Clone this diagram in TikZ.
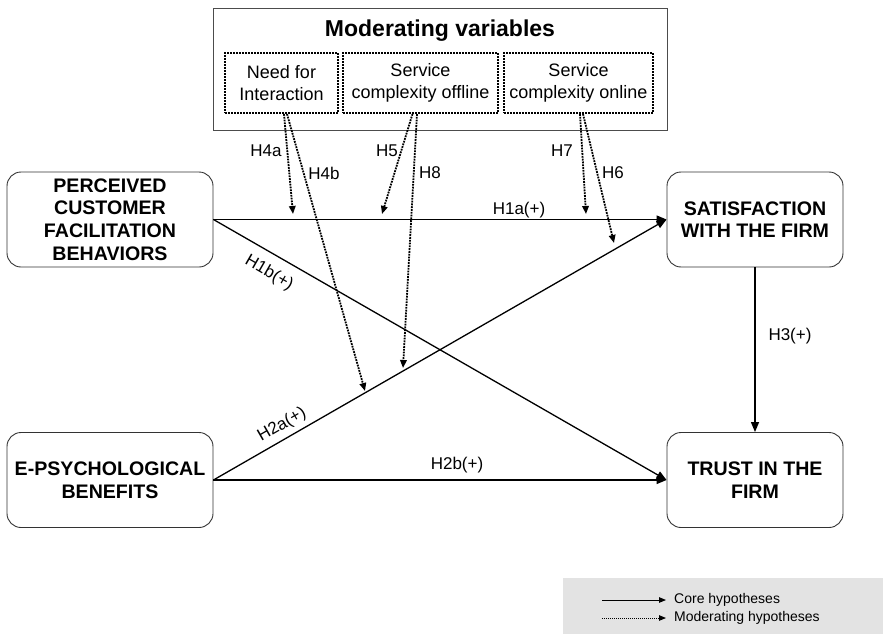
\documentclass[tikz,border=0pt]{standalone}
\usepackage{fontspec}
\setmainfont{Liberation Sans}
\usetikzlibrary{arrows.meta}
\begin{document}
\begin{tikzpicture}[x=1pt,y=-1pt,
  mainbox/.style={draw=black!80, line width=0.9pt, rounded corners=14pt, align=center,
    font=\fontsize{19.6}{22.6}\selectfont\bfseries, inner sep=0pt},
  modbox/.style={draw, densely dotted, line width=2pt, align=center,
    font=\fontsize{18}{21.5}\selectfont, inner sep=0pt},
  core/.style={line width=1.3pt, -{Triangle[length=10pt,width=8pt]}},
  moder/.style={line width=1.8pt, densely dotted, -{Triangle[length=8pt,width=6.5pt]}},
  hlab/.style={font=\fontsize{17}{20}\selectfont, inner sep=0pt},
  legtext/.style={font=\fontsize{14}{16}\selectfont, inner sep=0pt, anchor=west}
]
\useasboundingbox (0,0) rectangle (883,634);

% legend background
\fill[black!11] (563,578) rectangle (883,634);

% moderating variables box
\node[draw=black!70, line width=1pt, minimum width=454pt, minimum height=121pt, inner sep=0pt] (mod) at (440,69.5) {};
\node[font=\fontsize{23}{27}\selectfont\bfseries, inner sep=0pt] (title) at (440,31) {Moderating variables};
\node[modbox, minimum width=113pt, minimum height=60pt] (need) at (281.5,83) {Need for\\Interaction};
\node[modbox, minimum width=155pt, minimum height=60pt] (off) at (420.5,83) {Service\\complexity offline};
\node[modbox, minimum width=149pt, minimum height=60pt] (on) at (578.5,83) {Service\\complexity online};

% main constructs
\node[mainbox, minimum width=206pt, minimum height=95pt] (pcfb) at (110,219.5) {PERCEIVED\\CUSTOMER\\FACILITATION\\BEHAVIORS};
\node[mainbox, minimum width=176pt, minimum height=95pt] (sat) at (755,219.5) {SATISFACTION\\WITH THE FIRM};
\node[mainbox, minimum width=206pt, minimum height=95pt] (eps) at (110,480) {E-PSYCHOLOGICAL\\BENEFITS};
\node[mainbox, minimum width=176pt, minimum height=95pt] (trust) at (755,480) {TRUST IN THE\\FIRM};

% core hypotheses
\draw[core] (pcfb.east) -- (sat.west);
\draw[core] (pcfb.east) -- (trust.west);
\draw[core] (eps.east) -- (sat.west);
\draw[core] (eps.east) -- (trust.west);
\draw[core] (sat.south) -- (trust.north);

\node[hlab] (l1a) at (519,210) {H1a(+)};
\node[hlab, rotate=-29.9] (l1b) at (269,273) {H1b(+)};
\node[hlab, rotate=29.85] (l2a) at (282,425) {H2a(+)};
\node[hlab] (l2b) at (457,465) {H2b(+)};
\node[hlab] (l3) at (790,336) {H3(+)};

% moderating hypotheses
\coordinate (t4a) at (293,214);
\coordinate (t4b) at (365,391);
\coordinate (t5) at (382,214);
\coordinate (t8) at (403,368);
\coordinate (t7) at (586,214);
\coordinate (t6) at (614,243);

\draw[moder] ([xshift=2.5pt]need.south) -- (t4a);
\draw[moder] ([xshift=5.5pt]need.south) -- (t4b);
\draw[moder] ([xshift=-8pt]off.south) -- (t5);
\draw[moder] ([xshift=-3.5pt]off.south) -- (t8);
\draw[moder] ([xshift=1.5pt]on.south) -- (t7);
\draw[moder] ([xshift=4.5pt]on.south) -- (t6);

\node[hlab] (l4a) at (266,151) {H4a};
\node[hlab] (l4b) at (324,173) {H4b};
\node[hlab] (l5) at (387,151) {H5};
\node[hlab] (l8) at (430,173) {H8};
\node[hlab] (l7) at (562,151) {H7};
\node[hlab] (l6) at (613,173) {H6};

% legend
\coordinate (lga) at (602,600);
\coordinate (lgb) at (666,600);
\coordinate (lgc) at (602,618);
\coordinate (lgd) at (666,618);
\draw[line width=1pt, -{Triangle[length=7pt,width=5.5pt]}] (lga) -- (lgb);
\draw[line width=1pt, densely dotted, -{Triangle[length=7pt,width=5.5pt]}] (lgc) -- (lgd);
\node[legtext] (lcore) at (674,600) {Core hypotheses};
\node[legtext] (lmod) at (674,618) {Moderating hypotheses};
\end{tikzpicture}
\end{document}
